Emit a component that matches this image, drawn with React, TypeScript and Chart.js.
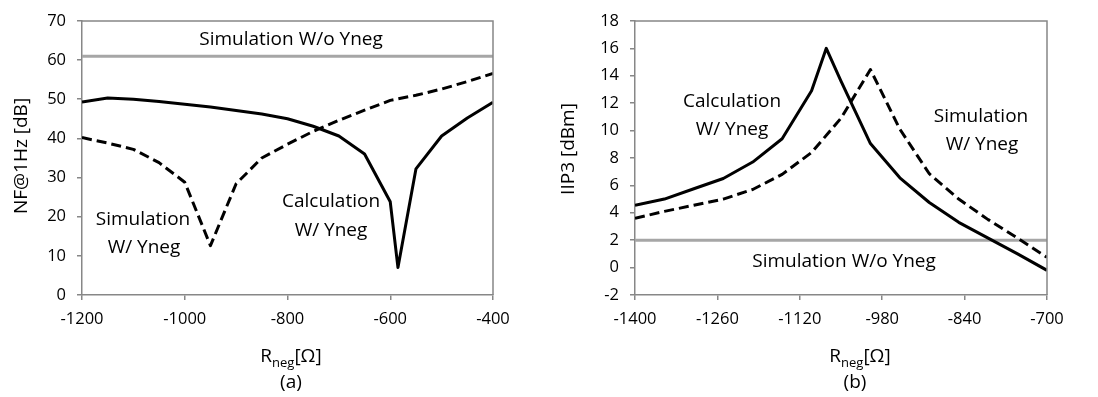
import React, { useEffect, useRef } from "react";
import { Chart, registerables } from "chart.js";

Chart.register(...registerables);

// ---------- Panel (a): NF@1Hz vs Rneg ----------
const nfXTicks = [-1200, -1000, -800, -600, -400];
const nfYTicks = [0, 10, 20, 30, 40, 50, 60, 70];
const nfCalcX = [-1200, -1150, -1100, -1050, -1000, -950, -900, -850, -800, -750, -700, -650, -600, -585, -550, -500, -450, -400];
const nfCalcY = [49.3, 50.3, 50.0, 49.4, 48.7, 48.0, 47.1, 46.2, 45.0, 43.1, 40.6, 36.0, 23.8, 7.0, 32.2, 40.6, 45.2, 49.2];
const nfSimX = [-1200, -1150, -1100, -1050, -1000, -950, -900, -850, -800, -750, -700, -650, -600, -550, -500, -450, -400];
const nfSimY = [40.2, 38.8, 37.2, 33.8, 28.8, 12.6, 28.4, 35.0, 38.5, 41.8, 44.6, 47.2, 49.7, 51.0, 52.6, 54.5, 56.6];
const nfNoYneg = 61;

// ---------- Panel (b): IIP3 vs Rneg ----------
const iipXTicks = [-1400, -1260, -1120, -980, -840, -700];
const iipYTicks = [-2, 0, 2, 4, 6, 8, 10, 12, 14, 16, 18];
const iipCalcX = [-1400, -1350, -1300, -1250, -1200, -1150, -1100, -1075, -1050, -1000, -950, -900, -850, -800, -750, -700];
const iipCalcY = [4.55, 5.0, 5.75, 6.5, 7.7, 9.4, 12.9, 16.0, 13.6, 9.05, 6.55, 4.75, 3.3, 2.15, 1.0, -0.2];
const iipSimX = [-1400, -1350, -1300, -1250, -1200, -1150, -1100, -1050, -1000, -950, -900, -850, -800, -750, -700];
const iipSimY = [3.6, 4.1, 4.55, 5.0, 5.7, 6.8, 8.4, 10.9, 14.45, 10.1, 6.85, 5.0, 3.5, 2.15, 0.75];
const iipNoYneg = 2;

const FONT = '"Open Sans", sans-serif';
const AXIS = "#878787";
const GRAY_LINE = "#a6a6a6";
const TXT = 19;

type Txt = { t: string; x: number; y: number };

type Panel = {
  xTicks: number[];
  yTicks: number[];
  calcX: number[];
  calcY: number[];
  simX: number[];
  simY: number[];
  ref: number;
  yW: number;
  padRight: number;
  padTop: number;
  texts: Txt[];
  yTitle: string;
  yTitleX: number;
  yTitleY: number;
  xTitleX: number;
  cap: string;
  capX: number;
};

const toPts = (xs: number[], ys: number[]) => xs.map((x, i) => ({ x, y: ys[i] }));

function drawRneg(ctx: CanvasRenderingContext2D, cx: number, baseY: number) {
  ctx.font = `${TXT}px ${FONT}`;
  const wR = ctx.measureText("R").width;
  const wB = ctx.measureText("[Ω]").width;
  ctx.font = `13px ${FONT}`;
  const wN = ctx.measureText("neg").width;
  let x = cx - (wR + wN + wB) / 2;
  ctx.textAlign = "left";
  ctx.textBaseline = "alphabetic";
  ctx.font = `${TXT}px ${FONT}`;
  ctx.fillText("R", x, baseY);
  x += wR;
  ctx.font = `13px ${FONT}`;
  ctx.fillText("neg", x, baseY + 5);
  x += wN;
  ctx.font = `${TXT}px ${FONT}`;
  ctx.fillText("[Ω]", x, baseY);
}

function PanelChart({ p, left }: { p: Panel; left: number }) {
  const ref = useRef<HTMLCanvasElement | null>(null);
  useEffect(() => {
    if (!ref.current) return;
    const xMin = p.xTicks[0];
    const xMax = p.xTicks[p.xTicks.length - 1];
    const yMin = p.yTicks[0];
    const yMax = p.yTicks[p.yTicks.length - 1];
    const textPlugin = {
      id: "texts",
      afterDraw(chart: any) {
        const ctx = chart.ctx as CanvasRenderingContext2D;
        const a = chart.chartArea;
        ctx.save();
        ctx.strokeStyle = AXIS;
        ctx.lineWidth = 1.5;
        ctx.beginPath();
        ctx.moveTo(a.left, a.top);
        ctx.lineTo(a.right, a.top);
        ctx.lineTo(a.right, a.bottom);
        ctx.stroke();
        ctx.fillStyle = "#000";
        ctx.textAlign = "center";
        ctx.textBaseline = "alphabetic";
        ctx.font = `${TXT}px ${FONT}`;
        for (const t of p.texts) ctx.fillText(t.t, t.x, t.y);
        ctx.save();
        ctx.translate(p.yTitleX, p.yTitleY);
        ctx.rotate(-Math.PI / 2);
        ctx.textBaseline = "middle";
        ctx.fillText(p.yTitle, 0, 0);
        ctx.restore();
        drawRneg(ctx, p.xTitleX, 362);
        ctx.textAlign = "center";
        ctx.font = `${TXT}px ${FONT}`;
        ctx.fillText(p.cap, p.capX, 388);
        ctx.restore();
      },
    };
    const tickFmt = (v: any) => String(v);
    const chart = new Chart(ref.current, {
      type: "scatter",
      data: {
        datasets: [
          {
            data: toPts(p.calcX, p.calcY),
            showLine: true,
            borderColor: "#000",
            borderWidth: 3,
            pointRadius: 0,
            borderJoinStyle: "round",
          },
          {
            data: toPts(p.simX, p.simY),
            showLine: true,
            borderColor: "#000",
            borderWidth: 3,
            borderDash: [10, 5],
            pointRadius: 0,
            borderJoinStyle: "round",
          },
          {
            data: [
              { x: xMin, y: p.ref },
              { x: xMax, y: p.ref },
            ],
            showLine: true,
            borderColor: GRAY_LINE,
            borderWidth: 3,
            pointRadius: 0,
          },
        ],
      } as any,
      options: {
        animation: false,
        responsive: false,
        devicePixelRatio: 1,
        layout: { padding: { left: 0, right: p.padRight, top: p.padTop, bottom: 0 } },
        plugins: { legend: { display: false }, tooltip: { enabled: false } },
        scales: {
          x: {
            type: "linear",
            min: xMin,
            max: xMax,
            afterFit: (s: any) => {
              s.height = 102;
            },
            afterBuildTicks: (s: any) => {
              s.ticks = p.xTicks.map((v) => ({ value: v }));
            },
            ticks: { font: { family: FONT, size: 16.5 }, color: "#000", padding: 9, maxRotation: 0, callback: tickFmt },
            grid: { display: true, drawOnChartArea: false, drawTicks: true, tickLength: 5, color: AXIS, lineWidth: 1.5 },
            border: { display: true, color: AXIS, width: 1.5 },
          },
          y: {
            type: "linear",
            min: yMin,
            max: yMax,
            afterFit: (s: any) => {
              s.width = p.yW;
            },
            afterBuildTicks: (s: any) => {
              s.ticks = p.yTicks.map((v) => ({ value: v }));
            },
            ticks: { font: { family: FONT, size: 16.5 }, color: "#000", padding: 11, callback: tickFmt },
            grid: { display: true, drawOnChartArea: false, drawTicks: true, tickLength: 5, color: AXIS, lineWidth: 1.5 },
            border: { display: true, color: AXIS, width: 1.5 },
          },
        },
      } as any,
      plugins: [textPlugin],
    });
    return () => chart.destroy();
  }, [p]);
  return (
    <canvas
      ref={ref}
      width={549}
      height={397}
      style={{ position: "absolute", left, top: 0, width: 549, height: 397 }}
    />
  );
}

const panelA: Panel = {
  xTicks: nfXTicks,
  yTicks: nfYTicks,
  calcX: nfCalcX,
  calcY: nfCalcY,
  simX: nfSimX,
  simY: nfSimY,
  ref: nfNoYneg,
  yW: 82,
  padRight: 56,
  padTop: 17,
  texts: [
    { t: "Simulation W/o Yneg", x: 291, y: 45 },
    { t: "Simulation", x: 143, y: 225 },
    { t: "W/ Yneg", x: 144, y: 253 },
    { t: "Calculation", x: 331, y: 207 },
    { t: "W/ Yneg", x: 331, y: 236 },
  ],
  yTitle: "NF@1Hz [dB]",
  yTitleX: 22,
  yTitleY: 156,
  xTitleX: 291,
  cap: "(a)",
  capX: 291,
};

const panelB: Panel = {
  xTicks: iipXTicks,
  yTicks: iipYTicks,
  calcX: iipCalcX,
  calcY: iipCalcY,
  simX: iipSimX,
  simY: iipSimY,
  ref: iipNoYneg,
  yW: 86,
  padRight: 51,
  padTop: 18,
  texts: [
    { t: "Calculation", x: 183, y: 107 },
    { t: "W/ Yneg", x: 183, y: 135 },
    { t: "Simulation", x: 432, y: 122 },
    { t: "W/ Yneg", x: 433, y: 150 },
    { t: "Simulation W/o Yneg", x: 295, y: 267 },
  ],
  yTitle: "IIP3 [dBm]",
  yTitleX: 20,
  yTitleY: 149,
  xTitleX: 311,
  cap: "(b)",
  capX: 306,
};

export default function App() {
  return (
    <div style={{ position: "absolute", left: 0, top: 0, width: 1098, height: 397, background: "#fff" }}>
      <PanelChart p={panelA} left={0} />
      <PanelChart p={panelB} left={549} />
    </div>
  );
}
